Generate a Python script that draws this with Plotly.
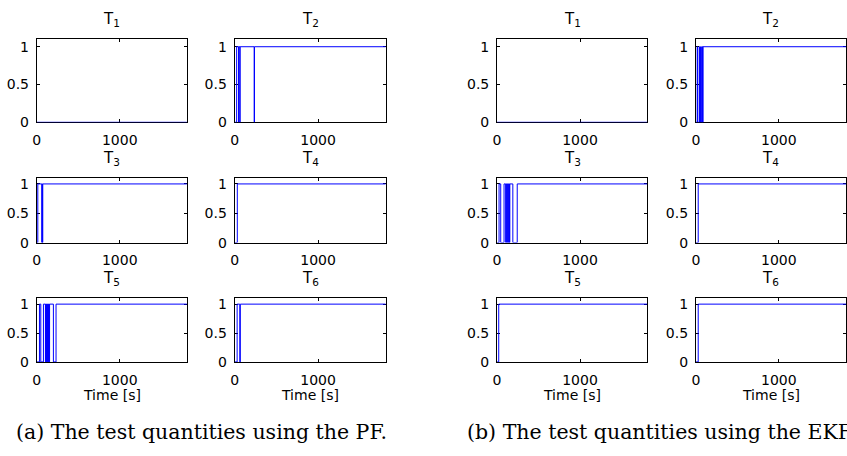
import plotly.graph_objects as go

W, H = 847, 456
T_END = 1810  # length of the run [s]

# Switching instants [s]; every entry flips the test quantity (0 <-> 1), starting at 0.
pf_T1 = []
pf_T2 = [24, 46, 50, 62, 66, 234, 238]
pf_T3 = [12, 60, 64, 68, 72]
pf_T4 = [32]
pf_T5 = [32, 48, 80, 104, 108, 116, 120, 128, 132, 140, 144, 150, 154, 200, 232]
pf_T6 = [30, 62, 68]

ekf_T1 = []
ekf_T2 = [16, 20, 40, 44, 52, 56, 70, 74, 78, 82, 86]
ekf_T3 = [24, 44, 84, 104, 108, 116, 120, 128, 132, 140, 144, 150, 154, 190, 243]
ekf_T4 = [28]
ekf_T5 = [20]
ekf_T6 = [28]

titles = ["T<sub>1</sub>", "T<sub>2</sub>", "T<sub>3</sub>",
          "T<sub>4</sub>", "T<sub>5</sub>", "T<sub>6</sub>"]
x_ticks = [0, 1000]
x_tick_text = ["0", "1000"]
y_ticks = [0, 0.5, 1]
y_tick_text = ["0", "0.5", "1"]
captions = ["(a) The test quantities using the PF.",
            "(b) The test quantities using the EKF."]

panels = [[pf_T1, pf_T2, pf_T3, pf_T4, pf_T5, pf_T6],
          [ekf_T1, ekf_T2, ekf_T3, ekf_T4, ekf_T5, ekf_T6]]

# pixel boxes of the subplot columns and rows
col_px = [[(33, 184), (232, 384)], [(496, 647), (696, 847)]]
row_px = [(38, 123), (180, 246), (303, 368)]


def step_trace(switches):
    xs, ys, state = [0], [0], 0
    for t in switches:
        state = 1 - state
        xs.append(t)
        ys.append(state)
    xs.append(T_END)
    ys.append(state)
    return xs, ys


def px_x(p):
    return p / W


def px_y(p):
    return 1 - p / H


fig = go.Figure()
layout = dict(width=W, height=H, margin=dict(l=0, r=0, t=0, b=0),
              autosize=False, showlegend=False,
              paper_bgcolor="white", plot_bgcolor="white",
              font=dict(family="DejaVu Sans", size=14, color="black"))
annotations = []

tick_font = dict(family="DejaVu Sans", size=14, color="black")
k = 0
for p, series in enumerate(panels):
    for i, sw in enumerate(series):
        k += 1
        r, c = divmod(i, 2)
        x0, x1 = col_px[p][c]
        y0, y1 = row_px[r]
        xs, ys = step_trace(sw)
        fig.add_trace(go.Scatter(x=xs, y=ys, mode="lines", line_shape="hv",
                                 line=dict(color="#0000ff", width=1),
                                 xaxis=f"x{k}", yaxis=f"y{k}",
                                 hoverinfo="skip"))
        common = dict(showline=True, linecolor="black", linewidth=1,
                      mirror="allticks", ticks="inside", ticklen=3,
                      tickcolor="black", tickwidth=1, showgrid=False,
                      zeroline=False, tickfont=tick_font,
                      layer="below traces")
        layout[f"xaxis{k}"] = dict(common, domain=[px_x(x0), px_x(x1)],
                                   range=[0, T_END], anchor=f"y{k}",
                                   tickmode="array", tickvals=x_ticks,
                                   ticktext=x_tick_text, ticklabelstandoff=5)
        layout[f"yaxis{k}"] = dict(common, domain=[px_y(y1), px_y(y0)],
                                   range=[0, 1.1], anchor=f"x{k}",
                                   tickmode="array", tickvals=y_ticks,
                                   ticktext=y_tick_text, ticklabelstandoff=4)
        annotations.append(dict(text=titles[i], xref="paper", yref="paper",
                                x=px_x((x0 + x1) / 2), y=px_y(y0),
                                xanchor="center", yanchor="bottom", yshift=8,
                                showarrow=False,
                                font=dict(family="DejaVu Sans", size=15)))
        if r == 2:
            annotations.append(dict(text="Time [s]", xref="paper", yref="paper",
                                    x=px_x((x0 + x1) / 2), y=px_y(402),
                                    xanchor="center", yanchor="middle",
                                    showarrow=False,
                                    font=dict(family="DejaVu Sans", size=14)))

cap_x = [199, 661]
for p, cap in enumerate(captions):
    annotations.append(dict(text=cap, xref="paper", yref="paper",
                            x=px_x(cap_x[p]), y=px_y(440),
                            xanchor="center", yanchor="middle",
                            showarrow=False,
                            font=dict(family="DejaVu Serif", size=20.5,
                                      color="black")))

layout["annotations"] = annotations
fig.update_layout(**layout)
fig.write_html("out.html")
